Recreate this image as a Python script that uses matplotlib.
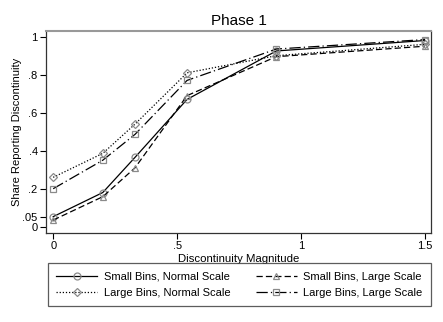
import matplotlib.pyplot as plt
from matplotlib.ticker import FixedLocator

plt.rcParams['font.family'] = ['Liberation Sans', 'DejaVu Sans']

# data
magnitude = [0, 0.2, 0.33, 0.54, 0.9, 1.5]
small_normal = [0.053, 0.18, 0.365, 0.67, 0.925, 0.98]
small_large = [0.035, 0.158, 0.31, 0.69, 0.895, 0.95]
large_normal = [0.26, 0.386, 0.54, 0.81, 0.90, 0.96]
large_large = [0.20, 0.35, 0.486, 0.77, 0.935, 0.985]

yticks = [0, 0.05, 0.2, 0.4, 0.6, 0.8, 1]
ylabels = ['0', '.05', '.2', '.4', '.6', '.8', '1']
xticks = [0, 0.5, 1, 1.5]
xlabels = ['0', '.5', '1', '1.5']

fig = plt.figure(figsize=(4.43, 3.22), dpi=100)
ax = fig.add_axes([46 / 443, 1 - 233 / 322, 385 / 443, 202 / 322])

mk = dict(color='black', markersize=5, markerfacecolor='none',
          markeredgecolor='#8a8a8a', markeredgewidth=0.9, linewidth=0.9)
l1, = ax.plot(magnitude, small_normal, linestyle='-', marker='o', **mk)
l2, = ax.plot(magnitude, small_large, linestyle=(0, (5, 2.5)), marker='^', **mk)
l3, = ax.plot(magnitude, large_normal, linestyle=(0, (1, 1.5)), marker='D',
              **{**mk, 'markersize': 4.5})
l4, = ax.plot(magnitude, large_large, linestyle=(0, (9, 2.5, 1, 2.5)), marker='s', **mk)

ax.set_xlim(-0.029, 1.524)
ax.set_ylim(-0.033, 1.03)
ax.yaxis.set_major_locator(FixedLocator(yticks))
ax.set_yticklabels(ylabels, rotation=0)
ax.set_xticks(xticks)
ax.set_xticklabels(xlabels)
ax.tick_params(labelsize=8, length=4, width=0.8, direction='out', pad=2)

for side in ['left', 'bottom', 'right']:
    ax.spines[side].set_color('#333333')
    ax.spines[side].set_linewidth(0.9)
ax.spines['top'].set_color('#999999')
ax.spines['top'].set_linewidth(1.5)

ax.set_xlabel('Discontinuity Magnitude', fontsize=8.2, labelpad=2)
ax.set_ylabel('Share Reporting Discontinuity', fontsize=8)
ax.yaxis.set_label_coords(-24 / 385, 0.5)
ax.set_title('Phase 1', fontsize=11, pad=4)

leg = fig.legend([l1, l3, l2, l4],
                 ['Small Bins, Normal Scale', 'Large Bins, Normal Scale',
                  'Small Bins, Large Scale', 'Large Bins, Large Scale'],
                 ncol=2, loc='lower left',
                 bbox_to_anchor=(48 / 443, 1 - 306 / 322, 383 / 443, 44 / 322),
                 mode='expand', fontsize=8, frameon=True, fancybox=False,
                 handlelength=3.7, borderpad=0.75, labelspacing=0.55,
                 columnspacing=1.0, handletextpad=0.6, borderaxespad=0)
leg.get_frame().set_edgecolor('#333333')
leg.get_frame().set_linewidth(0.9)

fig.savefig('out.png', dpi=100)
